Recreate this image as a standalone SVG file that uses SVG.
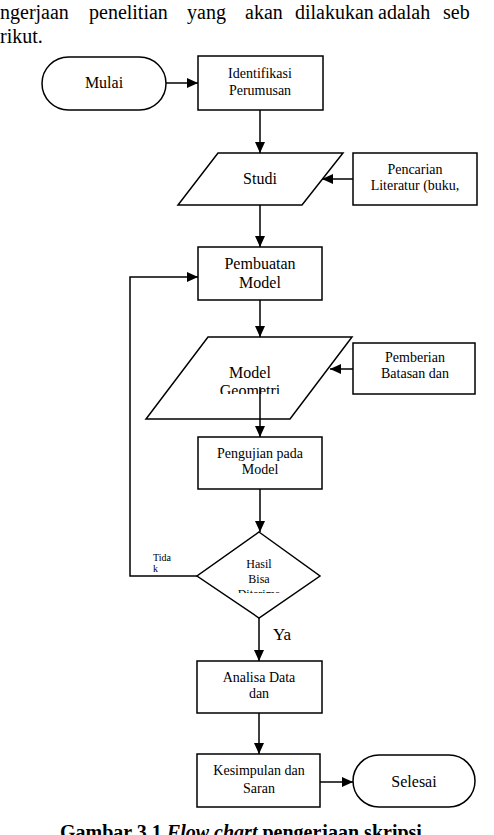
<svg xmlns="http://www.w3.org/2000/svg" width="494" height="835" viewBox="0 0 494 835">
<style>
  .shape { fill: #ffffff; stroke: #000000; stroke-width: 1.5; }
  .line { fill: none; stroke: #000000; stroke-width: 1.5; }
  text { font-family: "Liberation Serif", "Times New Roman", serif; fill: #000000; }
  .t14 { font-size: 14px; text-anchor: middle; }
  .t16 { font-size: 16px; text-anchor: middle; }
  .t12 { font-size: 12px; text-anchor: middle; }
  .body { font-size: 20px; }
  .cap { font-size: 20px; font-weight: bold; }
</style>
<defs>
  <marker id="arr" markerUnits="userSpaceOnUse" markerWidth="12" markerHeight="12" refX="11" refY="5" orient="auto" viewBox="0 0 12 10">
    <path d="M0,0 L11,5 L0,10 z" fill="#000000"/>
  </marker>
  <clipPath id="clipGeo"><rect x="140" y="330" width="220" height="64"/></clipPath>
  <clipPath id="clipDia"><rect x="190" y="530" width="140" height="63"/></clipPath>
</defs>
<rect width="494" height="835" fill="#ffffff"/>

<g id="intro">
  <text class="body" y="19"><tspan x="0">ngerjaan</tspan><tspan x="89">penelitian</tspan><tspan x="187">yang</tspan><tspan x="245">akan</tspan><tspan x="295">dilakukan</tspan><tspan x="378">adalah</tspan><tspan x="443">seb</tspan></text>
  <text class="body" x="0" y="43">rikut.</text>
</g>

<g id="connectors">
  <line class="line" x1="166" y1="83" x2="198" y2="83" marker-end="url(#arr)"/>
  <line class="line" x1="260" y1="110" x2="260" y2="153" marker-end="url(#arr)"/>
  <line class="line" x1="353" y1="179" x2="322" y2="179" marker-end="url(#arr)"/>
  <line class="line" x1="260" y1="205" x2="260" y2="247" marker-end="url(#arr)"/>
  <line class="line" x1="260" y1="300" x2="260" y2="337" marker-end="url(#arr)"/>
  <line class="line" x1="353" y1="369" x2="330" y2="369" marker-end="url(#arr)"/>
  <line class="line" x1="260" y1="489" x2="260" y2="532" marker-end="url(#arr)"/>
  <polyline class="line" points="197,576 130,576 130,277 198,277" marker-end="url(#arr)"/>
  <line class="line" x1="259" y1="618" x2="259" y2="661" marker-end="url(#arr)"/>
  <line class="line" x1="259" y1="713" x2="259" y2="754" marker-end="url(#arr)"/>
  <line class="line" x1="320" y1="782" x2="353" y2="782" marker-end="url(#arr)"/>
</g>

<g id="mulai">
  <rect class="shape" x="42" y="57" width="124" height="53" rx="26.5" ry="26.5"/>
  <text class="t16" x="104" y="88">Mulai</text>
</g>

<g id="identifikasi">
  <rect class="shape" x="198" y="56" width="125" height="54"/>
  <text class="t14" x="260" y="78">Identifikasi</text>
  <text class="t14" x="260" y="95">Perumusan</text>
</g>

<g id="studi">
  <polygon class="shape" points="218,153 343,153 302,205 178,205"/>
  <text class="t16" x="260" y="184">Studi</text>
</g>

<g id="pencarian">
  <rect class="shape" x="353" y="153" width="124" height="52"/>
  <text class="t14" x="415" y="174">Pencarian</text>
  <text class="t14" x="415" y="190">Literatur (buku,</text>
</g>

<g id="pembuatan">
  <rect class="shape" x="198" y="247" width="124" height="53"/>
  <text class="t16" x="260" y="269">Pembuatan</text>
  <text class="t16" x="260" y="288">Model</text>
</g>

<g id="geometri">
  <polygon class="shape" points="208,337 352,337 290,419 146,419"/>
  <text class="t16" x="250" y="378">Model</text>
  <text class="t16" x="250" y="396" clip-path="url(#clipGeo)">Geometri</text>
  <line class="line" x1="260" y1="387" x2="260" y2="437" marker-end="url(#arr)"/>
</g>

<g id="pemberian">
  <rect class="shape" x="353" y="343" width="122" height="51"/>
  <text class="t14" x="415" y="362">Pemberian</text>
  <text class="t14" x="415" y="378">Batasan dan</text>
</g>

<g id="pengujian">
  <rect class="shape" x="198" y="437" width="124" height="52"/>
  <text class="t14" x="260" y="458">Pengujian pada</text>
  <text class="t14" x="260" y="474">Model</text>
</g>

<g id="hasil">
  <polygon class="shape" points="259,532 320,576 259,618 197,576"/>
  <text class="t12" x="259" y="568">Hasil</text>
  <text class="t12" x="259" y="583">Bisa</text>
  <text class="t12" x="259" y="598" clip-path="url(#clipDia)">Diterima</text>
</g>

<g id="labels">
  <text x="153" y="561" style="font-size:10px">Tida</text>
  <text x="153" y="572" style="font-size:10px">k</text>
  <text x="273" y="640" style="font-size:17px">Ya</text>
</g>

<g id="analisa">
  <rect class="shape" x="197" y="661" width="125" height="52"/>
  <text class="t14" x="259" y="682">Analisa Data</text>
  <text class="t14" x="259" y="698">dan</text>
</g>

<g id="kesimpulan">
  <rect class="shape" x="197" y="754" width="123" height="53"/>
  <text class="t14" x="259" y="775">Kesimpulan dan</text>
  <text class="t14" x="259" y="793">Saran</text>
</g>

<g id="selesai">
  <rect class="shape" x="353" y="755" width="122" height="52" rx="26" ry="26"/>
  <text class="t16" x="414" y="787">Selesai</text>
</g>

<g id="caption">
  <text class="cap" x="60" y="839">Gambar 3.1 <tspan font-style="italic">Flow chart</tspan> pengerjaan skripsi</text>
</g>
</svg>
